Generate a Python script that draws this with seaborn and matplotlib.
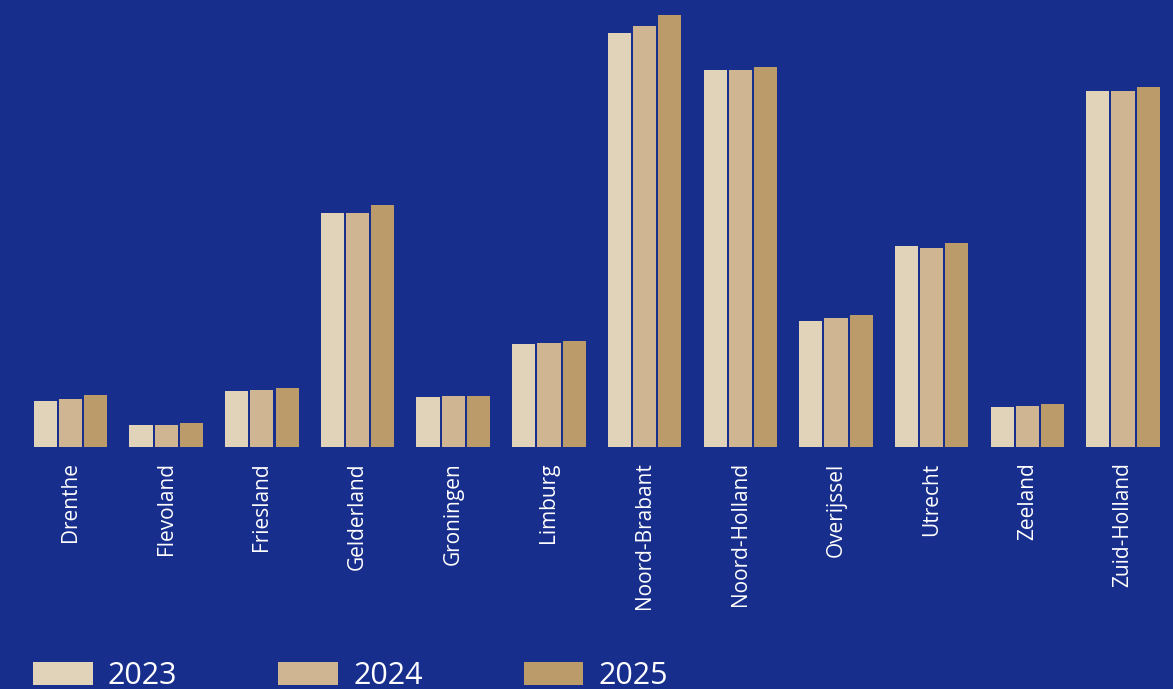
import matplotlib
matplotlib.use("Agg")
import matplotlib.pyplot as plt
import seaborn as sns
import pandas as pd

provinces = ["Drenthe", "Flevoland", "Friesland", "Gelderland", "Groningen", "Limburg",
             "Noord-Brabant", "Noord-Holland", "Overijssel", "Utrecht", "Zeeland", "Zuid-Holland"]
years = ["2023", "2024", "2025"]
v2023 = [46, 22, 56, 234, 50, 103, 414, 377, 126, 201, 40, 356]
v2024 = [48, 22, 57, 234, 51, 104, 421, 377, 129, 199, 41, 356]
v2025 = [52, 24, 59, 242, 51, 106, 432, 380, 132, 204, 43, 360]
colors = ["#e0d3b9", "#cfb592", "#bc9b6a"]
bg = "#182e8c"

rows = []
for y, vals in zip(years, [v2023, v2024, v2025]):
    for p, v in zip(provinces, vals):
        rows.append({"provincie": p, "jaar": y, "waarde": v})
df = pd.DataFrame(rows)

sns.set_theme(style="white")
plt.rcParams["font.family"] = ["Open Sans", "DejaVu Sans"]

W, H = 1173, 689
fig = plt.figure(figsize=(W / 100, H / 100), dpi=100, facecolor=bg)
ax = fig.add_axes([22.7 / W, 1 - 447 / H, 1148.2 / W, 447 / H])
ax.set_facecolor(bg)

sns.barplot(data=df, x="provincie", y="waarde", hue="jaar", order=provinces,
            hue_order=years, palette=colors, width=0.79, gap=0.08, linewidth=0,
            saturation=1, ax=ax, legend=False)

ax.set_ylim(0, 447)
ax.set_xlim(-0.5, 11.5)
ax.set_xlabel("")
ax.set_ylabel("")
ax.set_yticks([])
for s in ax.spines.values():
    s.set_visible(False)
ax.tick_params(axis="x", length=0, pad=11, labelsize=15, labelcolor="white", rotation=90)
for lbl in ax.get_xticklabels():
    lbl.set_verticalalignment("top")

from matplotlib.patches import Patch
handles = [Patch(facecolor=c, edgecolor="none", label=y) for c, y in zip(colors, years)]
leg = fig.legend(handles=handles, loc="lower left", bbox_to_anchor=(33 / W, -2 / H),
                 ncol=3, frameon=False, fontsize=22, handlelength=1.95, handleheight=0.75,
                 handletextpad=0.5, columnspacing=3.3, borderpad=0, borderaxespad=0)
for t in leg.get_texts():
    t.set_color("white")

fig.savefig("out.png", dpi=100, facecolor=bg)
